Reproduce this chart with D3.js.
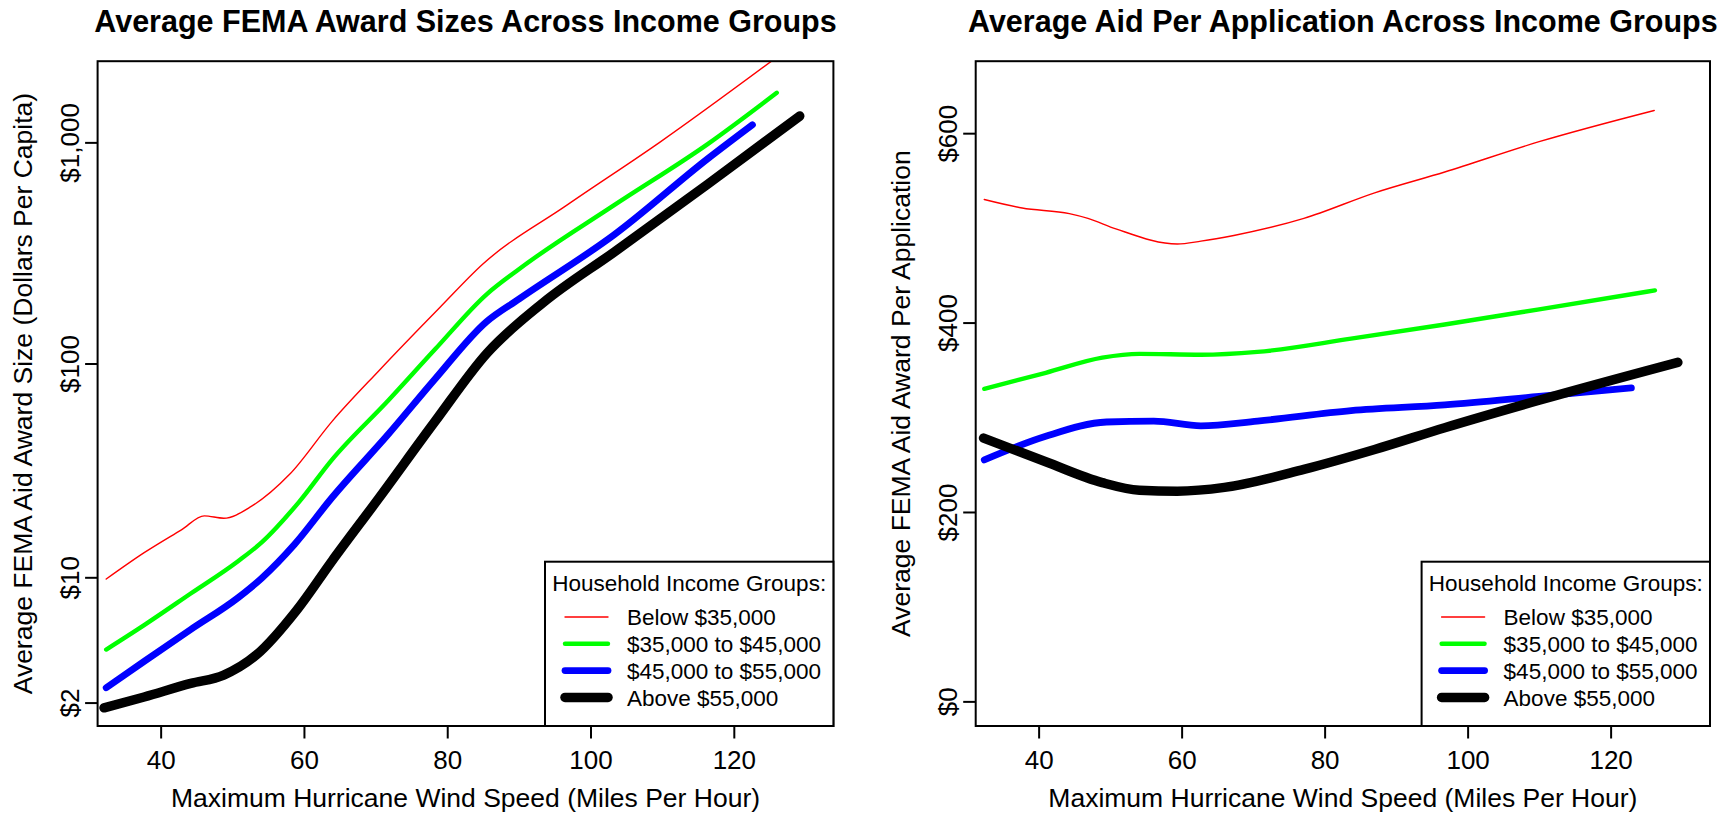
<!DOCTYPE html>
<html>
<head>
<meta charset="utf-8">
<script src="https://cdn.jsdelivr.net/npm/d3@7"></script>
<style>
	body { margin: 0; background: #fff; }
	svg text { font-family: "Liberation Sans", Arial, Helvetica, sans-serif; fill: #000; }
</style>
</head>
<body>
<svg id="chart" width="1729" height="815"></svg>
<script>
// ---- data ----
const groups = ["Below $35,000", "$35,000 to $45,000", "$45,000 to $55,000", "Above $55,000"];

const windTicks = [40, 60, 80, 100, 120];
const awardTicks = [2, 10, 100, 1000];
const awardTickLabels = ["$2", "$10", "$100", "$1,000"];
const perAppTicks = [0, 200, 400, 600];
const perAppTickLabels = ["$0", "$200", "$400", "$600"];

// left panel: [wind speed, dollars per capita]
const awardBelow35 = [[32.4, 9.8], [37.7, 13.2], [42.9, 17.0], [46.1, 19.8], [48.8, 19.3], [52.7, 22.0],
	[58.0, 31.0], [63.9, 54.3], [70.5, 93], [79.0, 180], [84.9, 281], [96.7, 521], [109.8, 1008], [126.0, 2420]];
const award35to45 = [[32.4, 4.2], [37.7, 5.7], [44.2, 8.3], [50.8, 12.0], [54.1, 14.8], [59.3, 23.0],
	[63.9, 36.2], [71.8, 68], [78.3, 116], [85.5, 206], [90.1, 269], [103.3, 521], [116.4, 985], [126.0, 1674]];
const award45to55 = [[32.4, 2.5], [37.7, 3.6], [44.2, 5.4], [50.8, 7.9], [54.1, 9.9], [58.7, 14.5],
	[63.9, 24.1], [71.8, 47.6], [78.3, 85], [85.5, 155], [90.1, 197], [103.3, 383], [116.4, 846], [122.6, 1201]];
const awardAbove55 = [[32.1, 1.84], [37.7, 2.18], [44.2, 2.66], [48.8, 2.99], [53.4, 3.93], [59.0, 6.83],
	[63.9, 12.0], [70.5, 24.1], [78.3, 54.4], [85.5, 111], [93.4, 189], [103.3, 320], [116.4, 649], [129.2, 1314]];

// right panel: [wind speed, dollars per application]
const perAppBelow35 = [[32.4, 530], [37.7, 521], [44.3, 515], [46.9, 510], [50.8, 499], [59.4, 483],
	[62.7, 486], [67.3, 492], [77.1, 510], [87.0, 537], [96.8, 559], [110.0, 591], [126.1, 624]];
const perApp35to45 = [[32.4, 330], [41.0, 347], [48.9, 363], [54.1, 367], [62.7, 366], [70.6, 369],
	[83.7, 383], [96.8, 398], [110.0, 414], [126.2, 434]];
const perApp45to55 = [[32.4, 255], [41.0, 280], [49.5, 295], [56.1, 296], [62.7, 291], [70.6, 296],
	[83.7, 307], [96.8, 313], [110.0, 322], [122.9, 331]];
const perAppAbove55 = [[32.3, 278], [41.0, 253], [48.9, 231], [54.1, 223], [59.4, 222], [66.0, 226],
	[77.1, 245], [87.0, 266], [96.8, 289], [110.0, 318], [129.4, 358]];

// ---- styles ----
const colors = ["#ff0000", "#00ff00", "#0000ff", "#000000"];
const lineWidths = [1.4, 4.4, 6.8, 9.5];

const svg = d3.select("#chart");

function drawPanel(p) {
	const x = d3.scaleLinear([31.2, 133.9], [p.left, p.right]);
	const y = p.y;
	const g = svg.append("g");

	g.append("clipPath").attr("id", p.id)
		.append("rect")
		.attr("x", p.left).attr("y", p.top)
		.attr("width", p.right - p.left).attr("height", p.bottom - p.top);

	const line = d3.line()
		.x(d => x(d[0]))
		.y(d => y(d[1]))
		.curve(d3.curveMonotoneX);

	g.append("g").attr("clip-path", `url(#${p.id})`)
		.selectAll("path")
		.data(p.series)
		.join("path")
		.attr("d", d => line(d))
		.attr("fill", "none")
		.attr("stroke", (d, i) => colors[i])
		.attr("stroke-width", (d, i) => lineWidths[i])
		.attr("stroke-linecap", "round")
		.attr("stroke-linejoin", "round");

	// x axis
	const axX = g.append("g")
		.attr("transform", `translate(0, ${p.bottom})`)
		.call(d3.axisBottom(x).tickValues(windTicks).tickSize(12.5).tickPadding(12.5));
	axX.select(".domain").remove();
	axX.selectAll("line").attr("stroke-width", 2);
	axX.selectAll("text").attr("font-size", 26).attr("font-family", null);

	// y axis, labels rotated like R's las = 0
	const axY = g.append("g")
		.attr("transform", `translate(${p.left}, 0)`)
		.call(d3.axisLeft(y).tickValues(p.yTicks).tickFormat((d, i) => p.yLabels[i]).tickSize(12.5));
	axY.select(".domain").remove();
	axY.selectAll("line").attr("stroke-width", 2);
	axY.selectAll("text")
		.attr("font-size", 26).attr("font-family", null)
		.attr("x", 0).attr("dy", null)
		.attr("text-anchor", "middle")
		.attr("transform", "translate(-19, 0) rotate(-90)");

	// plot box
	g.append("rect")
		.attr("x", p.left).attr("y", p.top)
		.attr("width", p.right - p.left).attr("height", p.bottom - p.top)
		.attr("fill", "none").attr("stroke", "#000").attr("stroke-width", 2);

	// titles
	const cx = (p.left + p.right) / 2, cy = (p.top + p.bottom) / 2;
	g.append("text")
		.attr("x", cx).attr("y", 31.5)
		.attr("text-anchor", "middle")
		.attr("font-size", 30.5).attr("font-weight", "bold")
		.text(p.title);
	g.append("text")
		.attr("x", cx).attr("y", 807)
		.attr("text-anchor", "middle")
		.attr("font-size", 26.5)
		.text("Maximum Hurricane Wind Speed (Miles Per Hour)");
	g.append("text")
		.attr("transform", `translate(${p.left - 65.5}, ${cy}) rotate(-90)`)
		.attr("text-anchor", "middle")
		.attr("font-size", 26.5)
		.text(p.yTitle);

	// legend (bottom right, inset 0)
	const lw = 288.4, lx = p.right - lw, ly = 561.7;
	const leg = g.append("g");
	leg.append("rect")
		.attr("x", lx).attr("y", ly)
		.attr("width", lw).attr("height", p.bottom - ly)
		.attr("fill", "#fff").attr("stroke", "#000").attr("stroke-width", 2);
	leg.append("text")
		.attr("x", lx + lw / 2).attr("y", 591.3)
		.attr("text-anchor", "middle")
		.attr("font-size", 22.5)
		.text("Household Income Groups:");
	const rows = leg.selectAll("g.row")
		.data(groups)
		.join("g").classed("row", true)
		.attr("transform", (d, i) => `translate(${lx}, ${617 + i * 26.8})`);
	rows.append("line")
		.attr("x1", 20).attr("x2", 63)
		.attr("stroke", (d, i) => colors[i])
		.attr("stroke-width", (d, i) => lineWidths[i])
		.attr("stroke-linecap", "round");
	rows.append("text")
		.attr("x", 82).attr("dy", "0.36em")
		.attr("font-size", 22.5)
		.text(d => d);
}

drawPanel({
	id: "clipLeft",
	left: 97.6, right: 833.4, top: 61.2, bottom: 726,
	y: d3.scaleSymlog().constant(1).domain([1.353, 2322]).range([726, 61.2]),
	yTicks: awardTicks, yLabels: awardTickLabels,
	title: "Average FEMA Award Sizes Across Income Groups",
	yTitle: "Average FEMA Aid Award Size (Dollars Per Capita)",
	series: [awardBelow35, award35to45, award45to55, awardAbove55]
});

drawPanel({
	id: "clipRight",
	left: 975.7, right: 1710, top: 61.2, bottom: 726,
	y: d3.scaleLinear([-26, 676], [726, 61.2]),
	yTicks: perAppTicks, yLabels: perAppTickLabels,
	title: "Average Aid Per Application Across Income Groups",
	yTitle: "Average FEMA Aid Award Per Application",
	series: [perAppBelow35, perApp35to45, perApp45to55, perAppAbove55]
});
</script>
</body>
</html>
